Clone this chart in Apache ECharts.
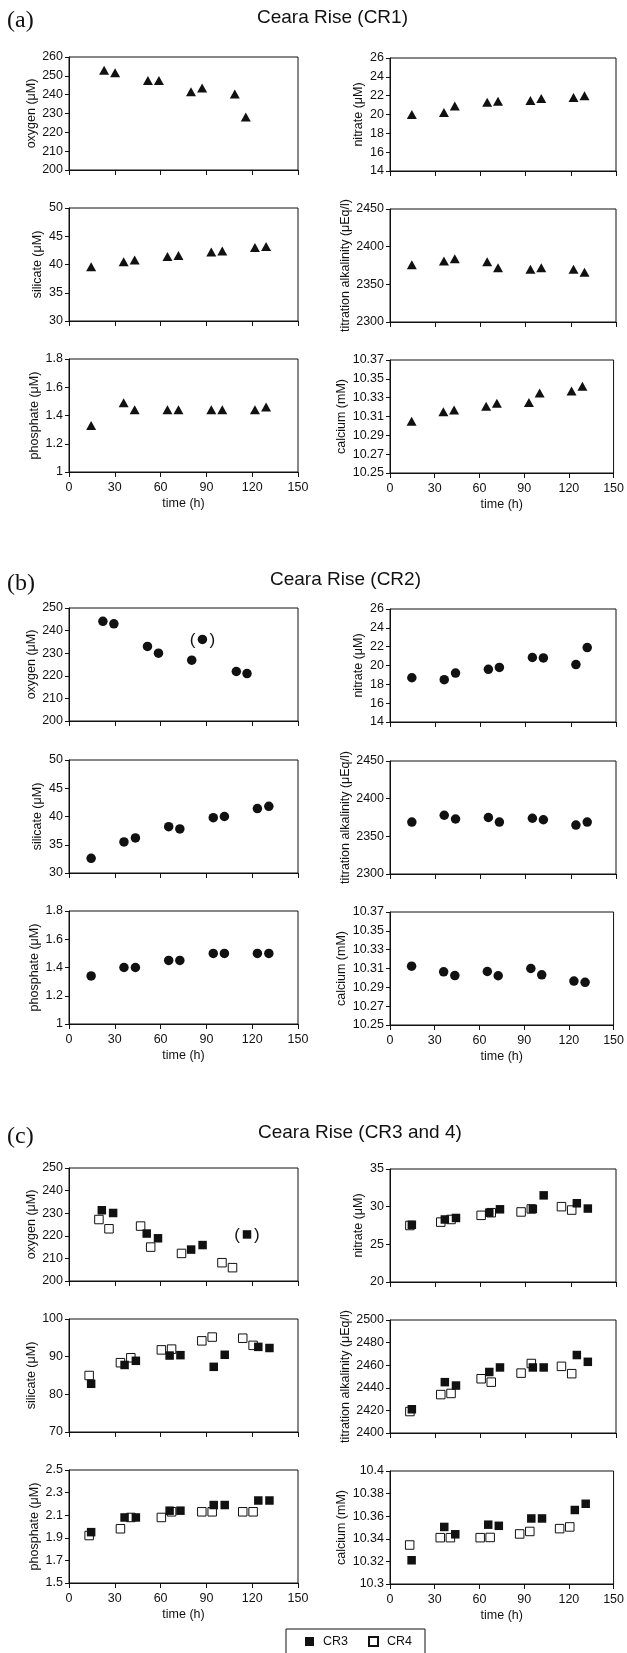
<!DOCTYPE html>
<html>
<head>
<meta charset="utf-8">
<script src="https://cdn.jsdelivr.net/npm/echarts/dist/echarts.min.js"></script>
<style>
  html, body { margin: 0; padding: 0; background: #fff; }
  #chart { width: 627px; height: 1653px; }
</style>
</head>
<body>
<div id="chart"></div>
<script>
// ---- data (time in h) ----
// (a) CR1, triangles
var timeA = [14.5, 35.8, 43.0, 64.5, 71.7, 93.2, 100.4, 121.8, 129.1];
var timeAOxygen = [23.0, 30.2, 51.7, 58.9, 79.9, 87.2, 108.6, 115.8];
var oxygenA = [253.0, 251.7, 247.5, 247.5, 241.6, 243.5, 240.3, 228.1];
var nitrateA = [20.0, 20.2, 20.9, 21.3, 21.4, 21.5, 21.7, 21.8, 22.0];
var silicateA = [39.6, 40.5, 40.8, 41.4, 41.6, 42.2, 42.4, 43.0, 43.2];
var alkalinityA = [2376, 2381, 2384, 2380, 2372, 2370, 2372, 2370, 2366];
var phosphateA = [1.33, 1.49, 1.44, 1.44, 1.44, 1.44, 1.44, 1.44, 1.46];
var calciumA = [10.305, 10.315, 10.317, 10.321, 10.324, 10.325, 10.335, 10.337, 10.342];

// (b) CR2, circles
var timeB = [14.5, 36.0, 43.5, 65.3, 72.6, 94.5, 101.8, 123.4, 130.9];
var timeBOxygen = [22.2, 29.4, 51.4, 58.6, 80.4, 87.4, 109.6, 116.6];
var oxygenB = [244.1, 243.0, 233.0, 230.0, 226.9, 236.1, 221.9, 221.0];
var oxygenBBracketed = 5;
var nitrateB = [18.7, 18.5, 19.2, 19.6, 19.8, 20.85, 20.8, 20.1, 21.9];
var silicateB = [32.6, 35.5, 36.2, 38.2, 37.8, 39.8, 40.0, 41.4, 41.8];
var alkalinityB = [2369, 2378, 2373, 2375, 2369, 2374, 2372, 2365, 2369];
var phosphateB = [1.34, 1.40, 1.40, 1.45, 1.45, 1.50, 1.50, 1.50, 1.50];
var calciumB = [10.3125, 10.3065, 10.3025, 10.3068, 10.3023, 10.310, 10.3033, 10.2967, 10.2953];

// (c) CR3 (filled squares) and CR4 (open squares)
var timeCR3 = [14.5, 36.4, 43.8, 65.9, 73.0, 94.8, 102.0, 124.0, 131.3];
var timeCR4 = [13.2, 33.7, 40.5, 60.5, 67.2, 87.0, 93.8, 113.8, 120.6];
var timeCR3Oxygen = [21.5, 28.9, 50.9, 58.3, 80.0, 87.5, 116.6];
var timeCR4Oxygen = [19.6, 26.2, 46.9, 53.5, 73.7, 100.2, 107.1];
var oxygenCR3 = [231.3, 230.1, 221.0, 218.9, 213.9, 215.9, 220.6];
var oxygenCR3Bracketed = 6;
var oxygenCR4 = [227.2, 223.1, 224.3, 215.0, 212.2, 208.1, 205.9];
var nitrateCR3 = [27.6, 28.3, 28.5, 29.2, 29.65, 29.7, 31.5, 30.45, 29.75];
var nitrateCR4 = [27.5, 27.95, 28.3, 28.85, 29.2, 29.3, 29.7, 30.0, 29.55];
var silicateCR3 = [82.8, 87.8, 88.9, 90.3, 90.4, 87.3, 90.5, 92.6, 92.3];
var silicateCR4 = [85.0, 88.4, 89.7, 91.8, 92.0, 94.2, 95.2, 94.9, 93.0];
var alkalinityCR3 = [2421, 2445, 2442, 2454, 2458, 2458, 2458, 2469, 2463];
var alkalinityCR4 = [2419, 2434, 2435, 2448, 2445, 2453, 2461.5, 2459, 2452.5];
var phosphateCR3 = [1.95, 2.08, 2.08, 2.14, 2.14, 2.19, 2.19, 2.23, 2.23];
var phosphateCR4 = [1.92, 1.98, 2.08, 2.08, 2.13, 2.13, 2.13, 2.13, 2.13];
var calciumCR3 = [10.321, 10.3505, 10.344, 10.3525, 10.3515, 10.358, 10.358, 10.3655, 10.371];
var calciumCR4 = [10.3345, 10.341, 10.341, 10.341, 10.3412, 10.3443, 10.3465, 10.349, 10.3505];

var timeTicks = {min: 0, max: 150, interval: 30};

// ---- layout ----
var FONT = '"Liberation Sans", Arial, Helvetica, sans-serif';
var SERIF = '24px "Liberation Serif", "Times New Roman", serif';
var INK = '#111';
var colX = [69, 390];
var colW = [229, 226];
var plotH = 113;
var rowTops = {
  a: [57, 208, 359],
  b: [608, 760, 911],
  c: [1168, 1319, 1470]
};

var grids = [], xAxes = [], yAxes = [], series = [];

function tickText(v) {
  return String(parseFloat(v.toFixed(4)));
}

function pairs(t, v, bracketed) {
  return v.map(function (y, i) {
    if (i === bracketed) {
      return {
        value: [t[i], y],
        label: {
          show: true, position: 'inside', formatter: '(   )',
          fontSize: 17, color: INK, fontFamily: FONT, offset: [0, 1]
        }
      };
    }
    return [t[i], y];
  });
}

function addPlot(panel, row, col, y, marks) {
  var idx = grids.length;
  var last = row === 2;
  grids.push({
    left: colX[col], top: rowTops[panel][row] + col, width: colW[col], height: plotH,
    show: true, borderColor: INK, borderWidth: 1, backgroundColor: 'transparent'
  });
  xAxes.push({
    type: 'value', gridIndex: idx,
    min: timeTicks.min, max: timeTicks.max, interval: timeTicks.interval,
    name: last ? 'time (h)' : '', nameLocation: 'middle', nameGap: 25,
    nameTextStyle: {fontSize: 12.5, color: INK, fontFamily: FONT},
    axisLine: {show: true, onZero: false, lineStyle: {color: INK, width: 1}},
    axisTick: {show: true, length: 5, lineStyle: {color: INK}},
    axisLabel: {show: last, fontSize: 12.5, color: INK, margin: 9, fontFamily: FONT},
    splitLine: {show: false}
  });
  yAxes.push({
    type: 'value', gridIndex: idx,
    min: y.min, max: y.max, interval: y.step,
    name: y.name, nameLocation: 'middle', nameGap: y.gap,
    nameTextStyle: {fontSize: 12.5, color: INK, fontFamily: FONT},
    axisLine: {show: true, onZero: false, lineStyle: {color: INK, width: 1}},
    axisTick: {show: true, length: 4, lineStyle: {color: INK}},
    axisLabel: {fontSize: 12.5, color: INK, margin: 6, fontFamily: FONT, formatter: tickText},
    splitLine: {show: false}
  });
  marks.forEach(function (m) {
    series.push({
      type: 'scatter', name: m.name || '', xAxisIndex: idx, yAxisIndex: idx,
      symbol: m.symbol, symbolSize: m.size,
      itemStyle: m.open
        ? {color: '#fff', borderColor: INK, borderWidth: 1, opacity: 1}
        : {color: INK, opacity: 1},
      z: m.open ? 2 : 3,
      data: m.data
    });
  });
}

var tri = function (t, v) { return [{symbol: 'triangle', size: [10, 9], data: pairs(t, v)}]; };
var dot = function (t, v, b) { return [{symbol: 'circle', size: 9.5, data: pairs(t, v, b)}]; };
var sq = function (t3, v3, t4, v4, b) {
  return [
    {name: 'CR4', symbol: 'rect', size: 8.5, open: true, data: pairs(t4, v4)},
    {name: 'CR3', symbol: 'rect', size: 8.5, data: pairs(t3, v3, b)}
  ];
};

// (a)
addPlot('a', 0, 0, {min: 200, max: 260, step: 10, name: 'oxygen (μM)', gap: 31}, tri(timeAOxygen, oxygenA));
addPlot('a', 0, 1, {min: 14, max: 26, step: 2, name: 'nitrate (μM)', gap: 25}, tri(timeA, nitrateA));
addPlot('a', 1, 0, {min: 30, max: 50, step: 5, name: 'silicate (μM)', gap: 25}, tri(timeA, silicateA));
addPlot('a', 1, 1, {min: 2300, max: 2450, step: 50, name: 'titration alkalinity (μEq/l)', gap: 37}, tri(timeA, alkalinityA));
addPlot('a', 2, 0, {min: 1, max: 1.8, step: 0.2, name: 'phosphate (μM)', gap: 28}, tri(timeA, phosphateA));
addPlot('a', 2, 1, {min: 10.25, max: 10.37, step: 0.02, name: 'calcium (mM)', gap: 42}, tri(timeA, calciumA));

// (b)
addPlot('b', 0, 0, {min: 200, max: 250, step: 10, name: 'oxygen (μM)', gap: 31}, dot(timeBOxygen, oxygenB, oxygenBBracketed));
addPlot('b', 0, 1, {min: 14, max: 26, step: 2, name: 'nitrate (μM)', gap: 25}, dot(timeB, nitrateB));
addPlot('b', 1, 0, {min: 30, max: 50, step: 5, name: 'silicate (μM)', gap: 25}, dot(timeB, silicateB));
addPlot('b', 1, 1, {min: 2300, max: 2450, step: 50, name: 'titration alkalinity (μEq/l)', gap: 37}, dot(timeB, alkalinityB));
addPlot('b', 2, 0, {min: 1, max: 1.8, step: 0.2, name: 'phosphate (μM)', gap: 28}, dot(timeB, phosphateB));
addPlot('b', 2, 1, {min: 10.25, max: 10.37, step: 0.02, name: 'calcium (mM)', gap: 42}, dot(timeB, calciumB));

// (c)
addPlot('c', 0, 0, {min: 200, max: 250, step: 10, name: 'oxygen (μM)', gap: 31},
  sq(timeCR3Oxygen, oxygenCR3, timeCR4Oxygen, oxygenCR4, oxygenCR3Bracketed));
addPlot('c', 0, 1, {min: 20, max: 35, step: 5, name: 'nitrate (μM)', gap: 25},
  sq(timeCR3, nitrateCR3, timeCR4, nitrateCR4));
addPlot('c', 1, 0, {min: 70, max: 100, step: 10, name: 'silicate (μM)', gap: 31},
  sq(timeCR3, silicateCR3, timeCR4, silicateCR4));
addPlot('c', 1, 1, {min: 2400, max: 2500, step: 20, name: 'titration alkalinity (μEq/l)', gap: 37},
  sq(timeCR3, alkalinityCR3, timeCR4, alkalinityCR4));
addPlot('c', 2, 0, {min: 1.5, max: 2.5, step: 0.2, name: 'phosphate (μM)', gap: 28},
  sq(timeCR3, phosphateCR3, timeCR4, phosphateCR4));
addPlot('c', 2, 1, {min: 10.3, max: 10.4, step: 0.02, name: 'calcium (mM)', gap: 42},
  sq(timeCR3, calciumCR3, timeCR4, calciumCR4));

function heading(x, y, text, font) {
  return {type: 'text', left: x, top: y, style: {text: text, font: font, fill: INK}};
}

echarts.init(document.getElementById('chart'), null, {renderer: 'canvas'})
.setOption({
  animation: false,
  backgroundColor: '#fff',
  textStyle: {fontFamily: FONT, color: INK},
  graphic: [
    heading(7, 9, '(a)', SERIF),
    heading(257, 8, 'Ceara Rise (CR1)', '19px ' + FONT),
    heading(7, 572, '(b)', SERIF),
    heading(270, 570, 'Ceara Rise (CR2)', '19px ' + FONT),
    heading(7, 1125, '(c)', SERIF),
    heading(258, 1123, 'Ceara Rise (CR3 and 4)', '19px ' + FONT)
  ],
  legend: {
    data: ['CR3', 'CR4'],
    left: 286, top: 1629,
    icon: 'rect', itemWidth: 9, itemHeight: 9, itemGap: 20,
    padding: [6, 13, 6, 19],
    borderColor: INK, borderWidth: 1,
    selectedMode: false,
    textStyle: {fontSize: 12.5, color: INK, fontFamily: FONT, padding: [0, 0, 0, 4]}
  },
  grid: grids,
  xAxis: xAxes,
  yAxis: yAxes,
  series: series
});
</script>
</body>
</html>
